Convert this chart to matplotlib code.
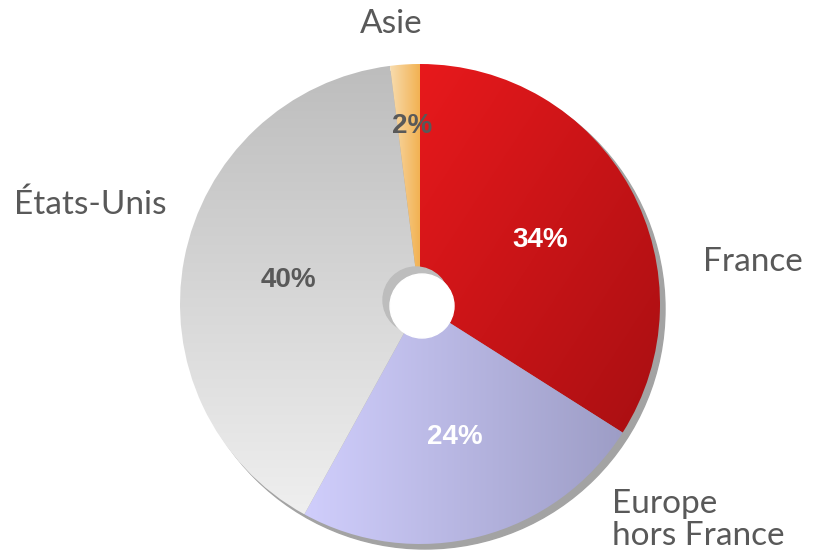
import numpy as np
import matplotlib
matplotlib.use("Agg")
import matplotlib.pyplot as plt
from matplotlib.colors import LinearSegmentedColormap
from matplotlib.patches import Circle

# data
regions = ["France", "Europe\nhors France", "États-Unis", "Asie"]
shares = [34, 24, 40, 2]
pct_labels = ["34%", "24%", "40%", "2%"]

# gradient colours per slice (start, end) and gradient direction
grad_colors = [("#e8191c", "#a80f12"), ("#d0cefc", "#9d9dc6"),
               ("#bdbdbd", "#efefef"), ("#f8dcae", "#f2b04f")]
grad_dirs = ["diag", "h", "v", "h"]
pct_colors = ["white", "white", "#595959", "#595959"]

W, H = 820, 555
fig = plt.figure(figsize=(W / 100, H / 100), dpi=100)
ax = fig.add_axes([0, 0, 1, 1])

cx, cy, r = 420, 251, 240

# drop shadow
ax.add_patch(Circle((cx + 5, cy - 5), r, color="#a3a3a3", zorder=0))

wedges, _ = ax.pie(shares, startangle=90, counterclock=False,
                   center=(cx, cy), radius=r, frame=True,
                   wedgeprops=dict(linewidth=0))

for w, (c0, c1), d in zip(wedges, grad_colors, grad_dirs):
    cmap = LinearSegmentedColormap.from_list("g", [c0, c1])
    n = 256
    xx, yy = np.meshgrid(np.linspace(0, 1, n), np.linspace(0, 1, n))
    if d == "h":
        z = xx
    elif d == "v":
        z = 1 - yy
    else:
        z = (xx + (1 - yy)) / 2
    # extent of wedge bbox
    th = np.radians(np.linspace(w.theta1, w.theta2, 100))
    xs = np.concatenate([[cx], cx + r * np.cos(th)])
    ys = np.concatenate([[cy], cy + r * np.sin(th)])
    im = ax.imshow(z, cmap=cmap, origin="lower", aspect="auto",
                   extent=(xs.min(), xs.max(), ys.min(), ys.max()), zorder=2)
    im.set_clip_path(w)
    w.set_facecolor("none")

# centre hole with inner shadow
ax.add_patch(Circle((cx - 4, cy + 4), 33, color="#bdbdbd", zorder=3))
ax.add_patch(Circle((cx + 2, cy - 2), 32, color="white", zorder=4))

# percentage labels
pct_pos = [(540, 315), (455, 118), (288, 275), (412, 429)]
for (x, y), t, c in zip(pct_pos, pct_labels, pct_colors):
    ax.text(x, y, t, ha="center", va="center", fontsize=20, fontweight="bold",
            color=c, family="Liberation Sans", zorder=5)

# region labels
lab_font = "Lato"
lab_size = 24
ax.text(753, 293, "France", ha="center", va="center", fontsize=lab_size,
        color="#595959", family=lab_font)
ax.text(612, 35, "Europe\nhors France", ha="left", va="center", fontsize=lab_size,
        color="#595959", family=lab_font, linespacing=1.12)
ax.text(90, 350, "États-Unis", ha="center", va="center", fontsize=lab_size,
        color="#595959", family=lab_font)
ax.text(391, 531, "Asie", ha="center", va="center", fontsize=lab_size,
        color="#595959", family=lab_font)

ax.set_xlim(0, W)
ax.set_ylim(0, H)
ax.set_aspect("equal")
ax.axis("off")

fig.savefig("out.png", dpi=100)
